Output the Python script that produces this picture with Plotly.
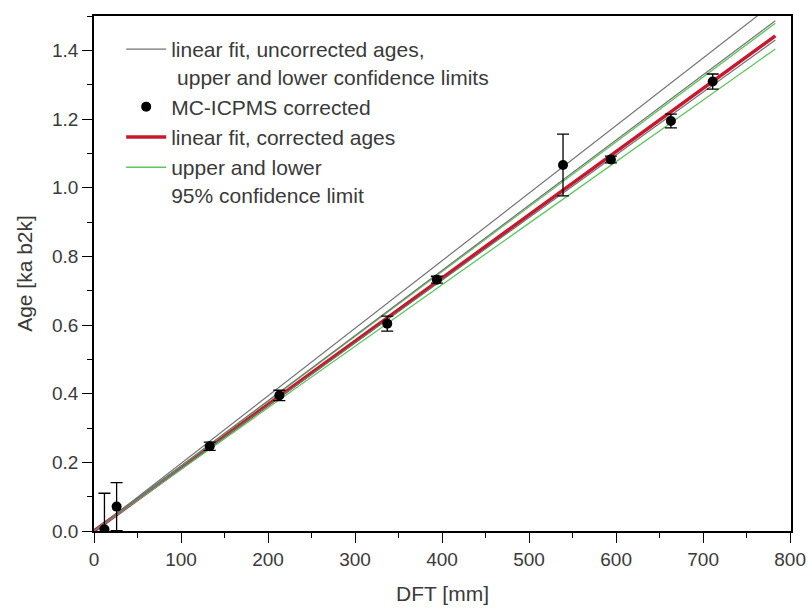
import plotly.graph_objects as go

# MC-ICPMS corrected ages versus depth from top (DFT)
dft_mm = [12, 26, 133, 213, 337, 394, 539, 594, 663, 711]
age_ka = [0.005, 0.071, 0.247, 0.395, 0.604, 0.732, 1.066, 1.082, 1.194, 1.309]
age_err = [0.105, 0.07, 0.012, 0.015, 0.022, 0.010, 0.09, 0.010, 0.020, 0.022]

# Fit lines, given by their end points
fit_x = [0, 783]
uncorr_upper = [0.0, 1.541]
uncorr_fit = [0.0, 1.486]
uncorr_lower = [0.0, 1.430]
corr_fit = [0.0, 1.442]
corr_upper95 = [0.0, 1.479]
corr_lower95 = [0.0, 1.404]

x_ticks = [0, 100, 200, 300, 400, 500, 600, 700, 800]
y_ticks = [0.0, 0.2, 0.4, 0.6, 0.8, 1.0, 1.2, 1.4]

FONT = "Liberation Sans, Arial, sans-serif"
TXT = "#3a3a3a"
GRAY = "#737373"
GREEN = "#5cc85c"
RED = "#c8182e"

fig = go.Figure()

# corrected fit and its 95% limits
fig.add_trace(go.Scatter(x=fit_x, y=corr_fit, mode="lines",
                         line=dict(color=RED, width=3.5),
                         name="linear fit, corrected ages", legendrank=3))
fig.add_trace(go.Scatter(x=fit_x, y=corr_upper95, mode="lines",
                         line=dict(color=GREEN, width=1.3),
                         name="upper and lower<br>95% confidence limit",
                         legendrank=4))
fig.add_trace(go.Scatter(x=fit_x, y=corr_lower95, mode="lines",
                         line=dict(color=GREEN, width=1.3),
                         showlegend=False))

# uncorrected fit with confidence limits
fig.add_trace(go.Scatter(x=fit_x, y=uncorr_upper, mode="lines",
                         line=dict(color=GRAY, width=1.2),
                         name="linear fit, uncorrected ages,<br> upper and lower confidence limits",
                         legendrank=1))
fig.add_trace(go.Scatter(x=fit_x, y=uncorr_fit, mode="lines",
                         line=dict(color=GRAY, width=1.2), showlegend=False))
fig.add_trace(go.Scatter(x=fit_x, y=uncorr_lower, mode="lines",
                         line=dict(color=GRAY, width=1.2), showlegend=False))

# measured ages
fig.add_trace(go.Scatter(x=dft_mm, y=age_ka, mode="markers",
                         marker=dict(color="black", size=10),
                         error_y=dict(type="data", array=age_err,
                                      color="black", thickness=1.3, width=6),
                         name="MC-ICPMS corrected", legendrank=2))

axis_common = dict(
    showline=True, linecolor="black", linewidth=1.5, mirror=True,
    ticks="outside", ticklen=10, tickwidth=1.3, tickcolor="black",
    showgrid=False, zeroline=False, automargin=False,
    tickfont=dict(family=FONT, size=19, color=TXT),
)

fig.update_xaxes(
    range=[0, 801], tickvals=x_ticks,
    minor=dict(dtick=50, ticks="outside", ticklen=5, tickcolor="black", tickwidth=1.2),
    title=dict(text="DFT [mm]", font=dict(family=FONT, size=21, color=TXT), standoff=18),
    **axis_common,
)
fig.update_yaxes(
    range=[0, 1.5], tickvals=y_ticks, tickformat=".1f",
    minor=dict(dtick=0.1, ticks="outside", ticklen=5, tickcolor="black", tickwidth=1.2),
    title=dict(text="Age [ka b2k]", font=dict(family=FONT, size=21, color=TXT), standoff=14),
    **axis_common,
)

fig.update_layout(
    width=809, height=608,
    margin=dict(l=94, r=18, t=16, b=77),
    paper_bgcolor="white", plot_bgcolor="white",
    font=dict(family=FONT, color=TXT),
    legend=dict(
        x=0.039, y=0.975, xanchor="left", yanchor="top",
        bgcolor="rgba(0,0,0,0)", borderwidth=0,
        font=dict(family=FONT, size=21, color=TXT),
        valign="top", tracegroupgap=0, itemwidth=40,
    ),
)

fig.write_html("out.html")
